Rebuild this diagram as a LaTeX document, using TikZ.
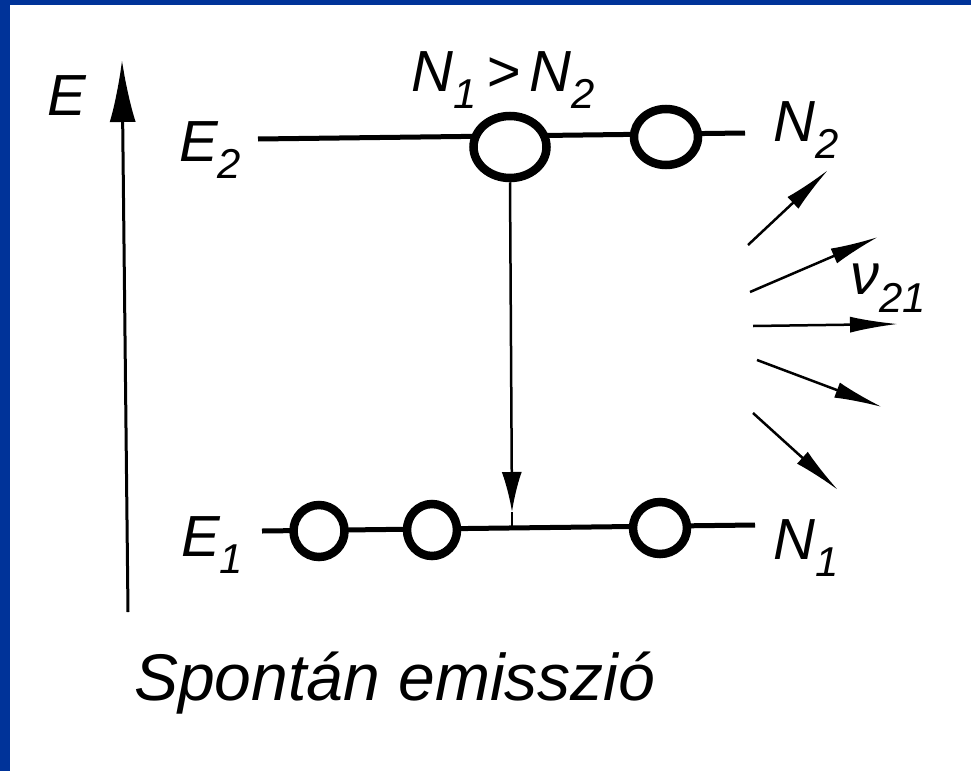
\documentclass[tikz,border=0pt]{standalone}
\usepackage{fontspec}
\setmainfont{Liberation Sans}
\usetikzlibrary{arrows.meta,shapes.geometric}
\definecolor{frameblue}{RGB}{0,51,153}
\newcommand\lsub[1]{\raisebox{-0.3em}{\scalebox{0.72}{#1}}}
\begin{document}
\begin{tikzpicture}[x=1pt,y=-1pt,
  lbl/.style={inner sep=0pt, font=\fontsize{58}{60}\selectfont\itshape},
  lvl/.style={line width=5pt},
  dot/.style={ellipse, draw, fill=white, line width=8.5pt, inner sep=0pt},
  photon/.style={line width=2.5pt, -{Latex[length=48pt,width=16pt]}},
]
\fill[white] (0,0) rectangle (971,771);
\fill[frameblue] (0,0) rectangle (10,771);
\fill[frameblue] (0,0) rectangle (971,5);
\useasboundingbox (0,0) rectangle (971,771);

% energy axis
\coordinate (ebot) at (128,612);
\coordinate (etop) at (122,60);
\draw[line width=3pt,-{Latex[length=62pt,width=26pt]}] (ebot) -- (etop);

% labels
\node[lbl] (lE) at (67,96) {E};
\node[lbl] (lE2) at (210,150) {E\lsub{2}};
\node[lbl] (lN) at (503,80) {N\lsub{1}\,>\,N\lsub{2}};
\node[lbl] (lN2) at (806,130) {N\lsub{2}};
\node[lbl] (lE1) at (212,545) {E\lsub{1}};
\node[lbl] (lN1) at (806,548) {N\lsub{1}};
\node[lbl] (lnu) at (888,288) {ν\lsub{21}};
\node[lbl, anchor=base west, font=\fontsize{66}{70}\selectfont\itshape] (cap) at (134,700) {Spontán emisszió};

% levels
\coordinate (tl) at (258,139);
\coordinate (tr) at (745,133);
\draw[lvl] (tl) -- (tr);
\coordinate (bl) at (262,531);
\coordinate (br) at (755,525);
\draw[lvl] (bl) -- (br);

% vertical transition
\coordinate (vtip) at (512,512);
\coordinate (vbase) at (512,528);
\draw[line width=2.5pt] (vtip) -- (vbase);

% particles
\node[dot, minimum width=73pt, minimum height=62pt] (u1) at (510,147) {};
\node[dot, minimum width=64pt, minimum height=56pt] (u2) at (666,137) {};
\node[dot, minimum width=51pt, minimum height=52pt] (d1) at (319,531) {};
\node[dot, minimum width=50pt, minimum height=52pt] (d2) at (432,530) {};
\node[dot, minimum width=54pt, minimum height=52pt] (d3) at (660,528) {};

\draw[line width=2.5pt,-{Latex[length=40pt,width=20pt]}] (u1.south) -- (vtip);

% photons
\coordinate (p1s) at (748,245); \coordinate (p1e) at (828,170);
\coordinate (p2s) at (750,292); \coordinate (p2e) at (878,237);
\coordinate (p3s) at (753,326); \coordinate (p3e) at (898,324);
\coordinate (p4s) at (757,360); \coordinate (p4e) at (882,407);
\coordinate (p5s) at (753,413); \coordinate (p5e) at (838,490);
\draw[photon] (p1s) -- (p1e);
\draw[photon] (p2s) -- (p2e);
\draw[photon] (p3s) -- (p3e);
\draw[photon] (p4s) -- (p4e);
\draw[photon] (p5s) -- (p5e);
\end{tikzpicture}
\end{document}
